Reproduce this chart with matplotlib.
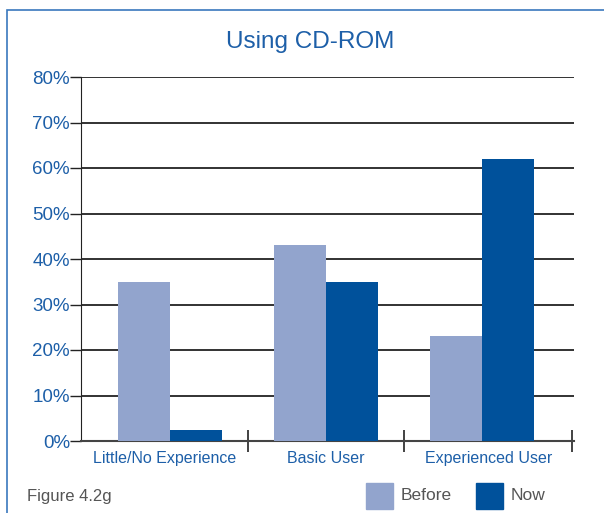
import numpy as np
import matplotlib
matplotlib.use('Agg')
import matplotlib.pyplot as plt
from matplotlib.patches import Rectangle

plt.rcParams['font.family'] = ['Liberation Sans', 'DejaVu Sans']

categories = ['Little/No Experience', 'Basic User', 'Experienced User']
before = [35, 43, 23]
now = [2.5, 35, 62]
yticks = [0, 10, 20, 30, 40, 50, 60, 70, 80]

c_before = '#92a4cd'
c_now = '#00519b'
c_text = '#1d5fa8'
c_gray = '#555555'

W, H = 604, 513
fig = plt.figure(figsize=(W / 100, H / 100), dpi=100)

# frame (only left and top edges visible, the rest is cropped)
fig.add_artist(Rectangle((7 / W, -0.1), 1.2, 1 - 10 / H + 0.1,
                         transform=fig.transFigure, fill=False,
                         edgecolor='#3a78bd', linewidth=1.2))

ax = fig.add_axes([81 / W, 1 - 441 / H, 493 / W, 364 / H])
x = np.arange(len(categories))
w = 0.333
ax.bar(x - w / 2, before, w, color=c_before, zorder=3)
ax.bar(x + w / 2, now, w, color=c_now, zorder=3)

xmin, xmax = -0.57, 2.59
ax.set_xlim(xmin, xmax)
ax.set_ylim(0, 80)
ax.set_yticks(yticks)
ax.set_yticklabels([f'{v}%' for v in yticks], color=c_text, fontsize=13.5)
ax.yaxis.grid(True, color='#222222', linewidth=1.3, zorder=0)
ax.tick_params(axis='y', length=8, width=1, color='#222222', pad=0)

# category boundary ticks
bounds = [0.5, 1.5, xmax - 0.01]
ax.set_xticks(bounds)
ax.set_xticklabels([])
ax.tick_params(axis='x', direction='inout', length=16, width=1.2, color='#222222')
# labels centred between boundaries
edges = [xmin] + bounds
ax.set_xticks([(a + b) / 2 for a, b in zip(edges[:-1], edges[1:])], minor=True)
ax.set_xticklabels(categories, minor=True, color=c_text, fontsize=11.5)
ax.tick_params(axis='x', which='minor', length=0, pad=7)

for s in ['top', 'right']:
    ax.spines[s].set_visible(False)
ax.spines['left'].set_color('#222222')
ax.spines['bottom'].set_color('#444444')
ax.spines['bottom'].set_linewidth(1.5)

fig.text(310 / W, 1 - 42 / H, 'Using CD-ROM', color=c_text, fontsize=17.5,
         ha='center', va='center')
fig.text(27 / W, 1 - 496 / H, 'Figure 4.2g', color=c_gray, fontsize=12,
         ha='left', va='center')

# legend
for px, col, lab in [(366, c_before, 'Before'), (476, c_now, 'Now')]:
    fig.add_artist(Rectangle((px / W, 1 - 509 / H), 27 / W, 26 / H,
                             transform=fig.transFigure, color=col))
    fig.text((px + 35) / W, 1 - 496 / H, lab, color=c_gray, fontsize=12.5,
             ha='left', va='center')

fig.savefig('out.png', dpi=100)
